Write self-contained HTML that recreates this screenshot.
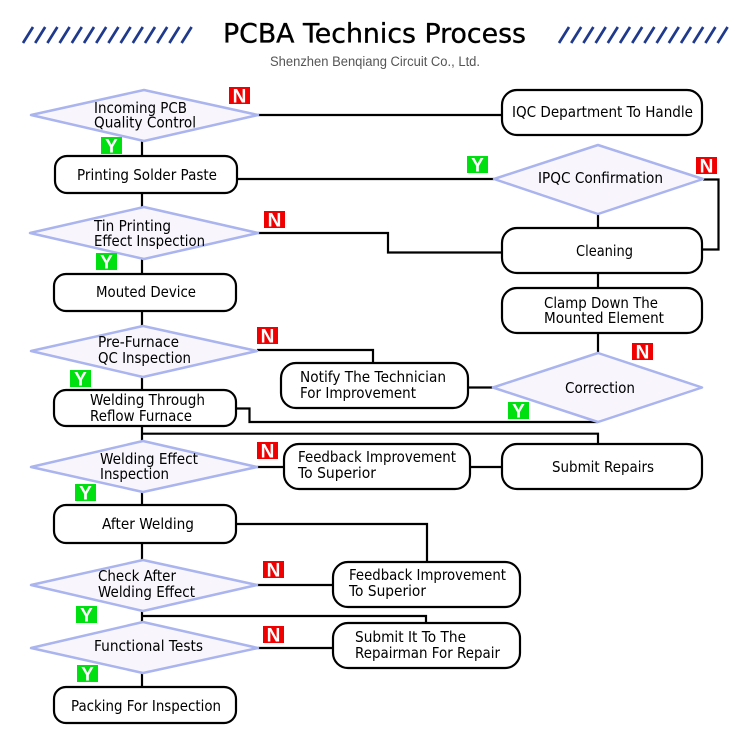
<!DOCTYPE html>
<html><head><meta charset="utf-8"><style>
html,body{margin:0;padding:0;background:#fff}
svg{display:block}
text{font-family:"DejaVu Sans","Liberation Sans",sans-serif;font-size:15px;fill:#000}
.l{fill:none;stroke:#000;stroke-width:2.2}
.b{fill:#fff;stroke:#000;stroke-width:2.2}
.d{fill:#f8f6fc;stroke:#aab4ee;stroke-width:2.5;stroke-linejoin:round}
.h{stroke:#1f3a8c;stroke-width:2.7;fill:none}
.n{fill:#f00000}.y{fill:#00e010}
.t{fill:#fff;font-family:"Liberation Sans",sans-serif;font-size:19px;font-weight:bold;text-anchor:middle}
</style></head><body>
<svg width="750" height="750" viewBox="0 0 750 750" xmlns="http://www.w3.org/2000/svg">
<rect width="750" height="750" fill="#fff"/>
<path class="h" d="M23 43L33 27M35.200 43L45.200 27M47.400 43L57.400 27M59.600 43L69.600 27M71.800 43L81.800 27M84 43L94 27M96.200 43L106.200 27M108.400 43L118.400 27M120.600 43L130.600 27M132.800 43L142.800 27M145 43L155 27M157.200 43L167.200 27M169.400 43L179.400 27M181.600 43L191.600 27"/>
<path class="h" d="M559 43L569 27M571.200 43L581.200 27M583.400 43L593.400 27M595.600 43L605.600 27M607.800 43L617.800 27M620 43L630 27M632.200 43L642.200 27M644.400 43L654.400 27M656.600 43L666.600 27M668.800 43L678.800 27M681 43L691 27M693.200 43L703.200 27M705.400 43L715.400 27M717.600 43L727.600 27"/>
<text x="223" y="42.500" style="font-size:26.500px;fill:#000;stroke:#000;stroke-width:.35" textLength="303" lengthAdjust="spacingAndGlyphs">PCBA Technics Process</text>
<text x="270" y="66" style="font-family:'Liberation Sans',sans-serif;font-size:13.500px;fill:#555" textLength="210" lengthAdjust="spacingAndGlyphs">Shenzhen Benqiang Circuit Co., Ltd.</text>

<!-- connectors -->
<path class="l" d="M142 141V156M142 193V207M142 259V274M142 311V326M142 377V390M142 426V441M142 492V505M142 543V560M142 611V622M142 673V687"/>
<path class="l" d="M258 115H502M237 179H494M258 233H388V252.500H502M703 179.500H718.500V249.500H702M598 214V228M598 273V288M598 333V353M468 387.500H493"/>
<path class="l" d="M236 408.500H249.500V422H598M142 433.700H598V444M257 350H373V363M257 467H284M470 467H502M236 524H427V562M257 585H333M142 616H426V623M258 648H333"/>

<!-- diamonds -->
<polygon class="d" points="31,115 144,90 258,115 144,141"/>
<polygon class="d" points="30,233 144,207 258,233 144,259"/>
<polygon class="d" points="31,351 143,326 257,351 143,377"/>
<polygon class="d" points="31,467 143,441 257,467 143,492"/>
<polygon class="d" points="31,585 143,560 257,585 143,611"/>
<polygon class="d" points="31,648 143,622 258,648 143,673"/>
<polygon class="d" points="494,179 598,145 703,179 598,214"/>
<polygon class="d" points="493,387.500 598,353 702,387.500 598,422"/>

<!-- boxes -->
<rect class="b" x="55" y="156" width="182" height="37" rx="12"/>
<rect class="b" x="54" y="274" width="182" height="37" rx="12"/>
<rect class="b" x="54" y="390" width="182" height="36" rx="12"/>
<rect class="b" x="54" y="505" width="182" height="38" rx="12"/>
<rect class="b" x="54" y="687" width="182" height="36" rx="12"/>
<rect class="b" x="502" y="90" width="200" height="45" rx="15"/>
<rect class="b" x="502" y="228" width="200" height="45" rx="15"/>
<rect class="b" x="502" y="288" width="200" height="45" rx="15"/>
<rect class="b" x="502" y="444" width="200" height="45" rx="15"/>
<rect class="b" x="281" y="363" width="187" height="45" rx="15"/>
<rect class="b" x="284" y="444" width="186" height="45" rx="15"/>
<rect class="b" x="333" y="562" width="187" height="45" rx="15"/>
<rect class="b" x="333" y="623" width="187" height="45" rx="15"/>

<!-- labels -->
<text x="94" y="113" textLength="93" lengthAdjust="spacingAndGlyphs">Incoming PCB</text>
<text x="94" y="127.500" textLength="102" lengthAdjust="spacingAndGlyphs">Quality Control</text>
<text x="77" y="180" textLength="140" lengthAdjust="spacingAndGlyphs">Printing Solder Paste</text>
<text x="94" y="231" textLength="77" lengthAdjust="spacingAndGlyphs">Tin Printing</text>
<text x="94" y="246" textLength="111" lengthAdjust="spacingAndGlyphs">Effect Inspection</text>
<text x="96" y="297" textLength="100" lengthAdjust="spacingAndGlyphs">Mouted Device</text>
<text x="98" y="347" textLength="81" lengthAdjust="spacingAndGlyphs">Pre-Furnace</text>
<text x="98" y="363" textLength="93" lengthAdjust="spacingAndGlyphs">QC Inspection</text>
<text x="90" y="405" textLength="115" lengthAdjust="spacingAndGlyphs">Welding Through</text>
<text x="90" y="421" textLength="102" lengthAdjust="spacingAndGlyphs">Reflow Furnace</text>
<text x="100" y="464" textLength="98" lengthAdjust="spacingAndGlyphs">Welding Effect</text>
<text x="100" y="479" textLength="69" lengthAdjust="spacingAndGlyphs">Inspection</text>
<text x="102" y="529" textLength="92" lengthAdjust="spacingAndGlyphs">After Welding</text>
<text x="98" y="581" textLength="78" lengthAdjust="spacingAndGlyphs">Check After</text>
<text x="98" y="597" textLength="97" lengthAdjust="spacingAndGlyphs">Welding Effect</text>
<text x="94" y="651" textLength="109" lengthAdjust="spacingAndGlyphs">Functional Tests</text>
<text x="71" y="711" textLength="150" lengthAdjust="spacingAndGlyphs">Packing For Inspection</text>
<text x="512" y="117" textLength="181" lengthAdjust="spacingAndGlyphs">IQC Department To Handle</text>
<text x="538" y="183" textLength="125" lengthAdjust="spacingAndGlyphs">IPQC Confirmation</text>
<text x="576" y="256" textLength="57" lengthAdjust="spacingAndGlyphs">Cleaning</text>
<text x="544" y="308" textLength="114" lengthAdjust="spacingAndGlyphs">Clamp Down The</text>
<text x="544" y="323" textLength="120" lengthAdjust="spacingAndGlyphs">Mounted Element</text>
<text x="565" y="393" textLength="70" lengthAdjust="spacingAndGlyphs">Correction</text>
<text x="300" y="382" textLength="146" lengthAdjust="spacingAndGlyphs">Notify The Technician</text>
<text x="300" y="398" textLength="116" lengthAdjust="spacingAndGlyphs">For Improvement</text>
<text x="298" y="462" textLength="158" lengthAdjust="spacingAndGlyphs">Feedback Improvement</text>
<text x="298" y="478" textLength="78" lengthAdjust="spacingAndGlyphs">To Superior</text>
<text x="552" y="472" textLength="102" lengthAdjust="spacingAndGlyphs">Submit Repairs</text>
<text x="349" y="580" textLength="157" lengthAdjust="spacingAndGlyphs">Feedback Improvement</text>
<text x="349" y="596" textLength="77" lengthAdjust="spacingAndGlyphs">To Superior</text>
<text x="355" y="642" textLength="111" lengthAdjust="spacingAndGlyphs">Submit It To The</text>
<text x="355" y="658" textLength="145" lengthAdjust="spacingAndGlyphs">Repairman For Repair</text>

<!-- badges -->
<rect class="n" x="229" y="87" width="21" height="17"/><text class="t" x="239.500" y="102.500">N</text>
<rect class="y" x="101" y="137" width="21" height="17"/><text class="t" x="111.500" y="152.500">Y</text>
<rect class="n" x="264" y="211" width="21" height="17"/><text class="t" x="274.500" y="226.500">N</text>
<rect class="y" x="96" y="253" width="21" height="17"/><text class="t" x="106.500" y="268.500">Y</text>
<rect class="y" x="467" y="156" width="21" height="17"/><text class="t" x="477.500" y="171.500">Y</text>
<rect class="n" x="696" y="157" width="21" height="17"/><text class="t" x="706.500" y="172.500">N</text>
<rect class="n" x="257" y="327" width="21" height="17"/><text class="t" x="267.500" y="342.500">N</text>
<rect class="y" x="70" y="370" width="21" height="17"/><text class="t" x="80.500" y="385.500">Y</text>
<rect class="n" x="257" y="442" width="21" height="17"/><text class="t" x="267.500" y="457.500">N</text>
<rect class="y" x="75" y="484" width="21" height="17"/><text class="t" x="85.500" y="499.500">Y</text>
<rect class="n" x="632" y="343" width="21" height="17"/><text class="t" x="642.500" y="358.500">N</text>
<rect class="y" x="508" y="402" width="21" height="17"/><text class="t" x="518.500" y="417.500">Y</text>
<rect class="n" x="263" y="561" width="21" height="17"/><text class="t" x="273.500" y="576.500">N</text>
<rect class="y" x="76" y="606" width="21" height="17"/><text class="t" x="86.500" y="621.500">Y</text>
<rect class="n" x="263" y="626" width="21" height="17"/><text class="t" x="273.500" y="641.500">N</text>
<rect class="y" x="77" y="665" width="21" height="17"/><text class="t" x="87.500" y="680.500">Y</text>
</svg>
</body></html>
